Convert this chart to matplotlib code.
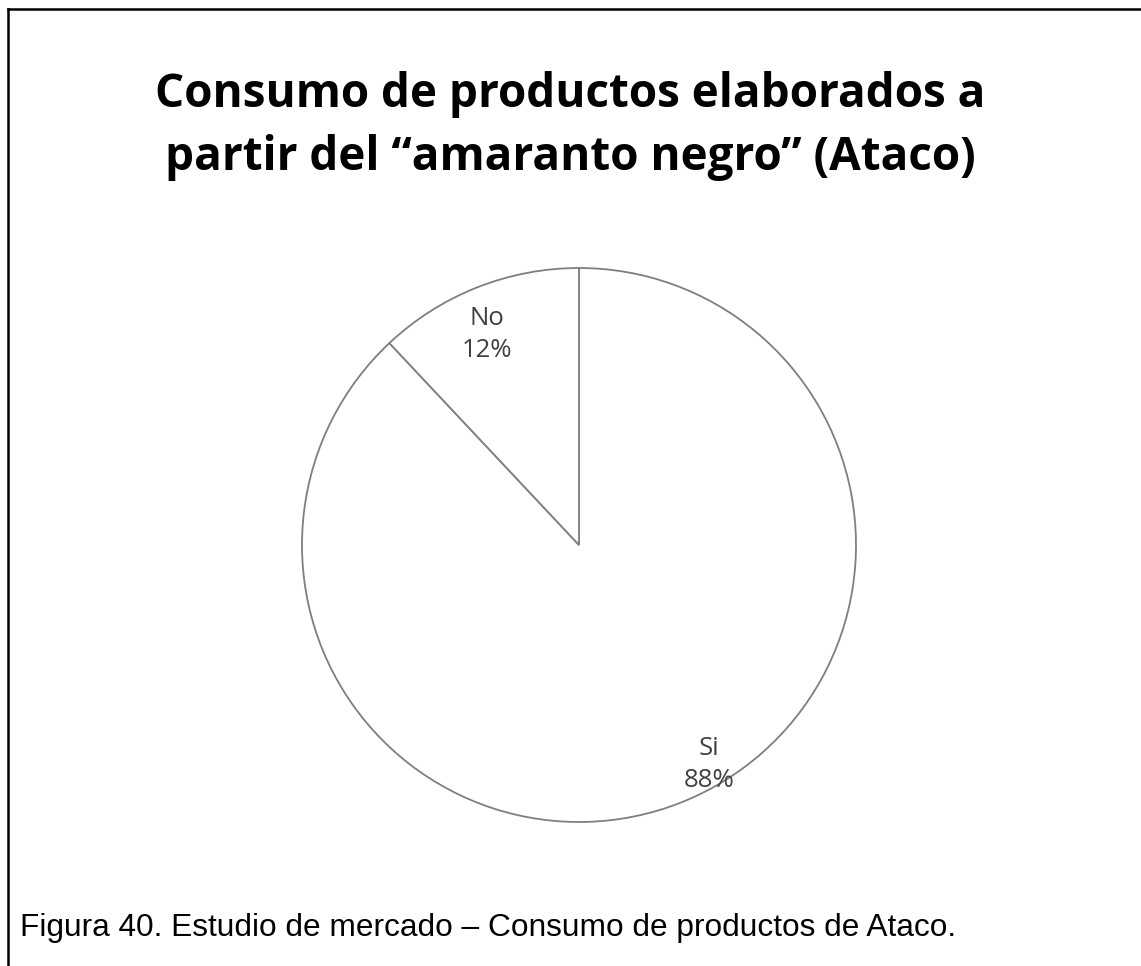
import matplotlib.pyplot as plt
import numpy as np
from matplotlib.lines import Line2D

# survey answers
labels = ['Si', 'No']
percent = [88, 12]

title = 'Consumo de productos elaborados a\npartir del \u201camaranto negro\u201d (Ataco)'
caption = 'Figura 40. Estudio de mercado \u2013 Consumo de productos de Ataco.'

W, H = 1141, 966
fig = plt.figure(figsize=(W / 100, H / 100), dpi=100)
fig.patch.set_facecolor('white')

# frame lines along top and left edge
fig.add_artist(Line2D([8 / W, 1], [1 - 8.5 / H, 1 - 8.5 / H], color='black', lw=1.8))
fig.add_artist(Line2D([8 / W, 8 / W], [0, 1 - 8.5 / H], color='black', lw=1.8))

# pie placed with center at (579, 545) px, radius 277 px
cx, cy, r = 579, 545, 277
ax = fig.add_axes([(cx - r) / W, (H - cy - r) / H, 2 * r / W, 2 * r / H])
wedges, _ = ax.pie(percent, startangle=90, counterclock=False,
                   colors=['white', 'white'],
                   wedgeprops=dict(edgecolor='#7f7f7f', linewidth=1.3))
for w in wedges:
    w.set_clip_on(False)
ax.set_xlim(-1, 1)
ax.set_ylim(-1, 1)
ax.set_aspect('equal')
ax.axis('off')

# data labels inside each slice (distance, angle shift from mid-angle)
label_pos = {'Si': (0.92, 9), 'No': (0.83, 2)}
for w, lab, p in zip(wedges, labels, percent):
    mid = np.deg2rad((w.theta1 + w.theta2) / 2 + label_pos[lab][1])
    d = label_pos[lab][0]
    ax.text(d * np.cos(mid), d * np.sin(mid), f'{lab}\n{p}%',
            ha='center', va='center', fontsize=18.5, family='Open Sans',
            color='#404040', linespacing=1.35)

fig.text(570 / W, 1 - 126 / H, title, ha='center', va='center',
         fontsize=33, fontweight='bold', family='Open Sans',
         linespacing=1.42, color='black')

fig.text(20 / W, 1 - 928 / H, caption, ha='left', va='center',
         fontsize=22.8, family='Liberation Sans', color='black')

fig.savefig('out.png', dpi=100)
